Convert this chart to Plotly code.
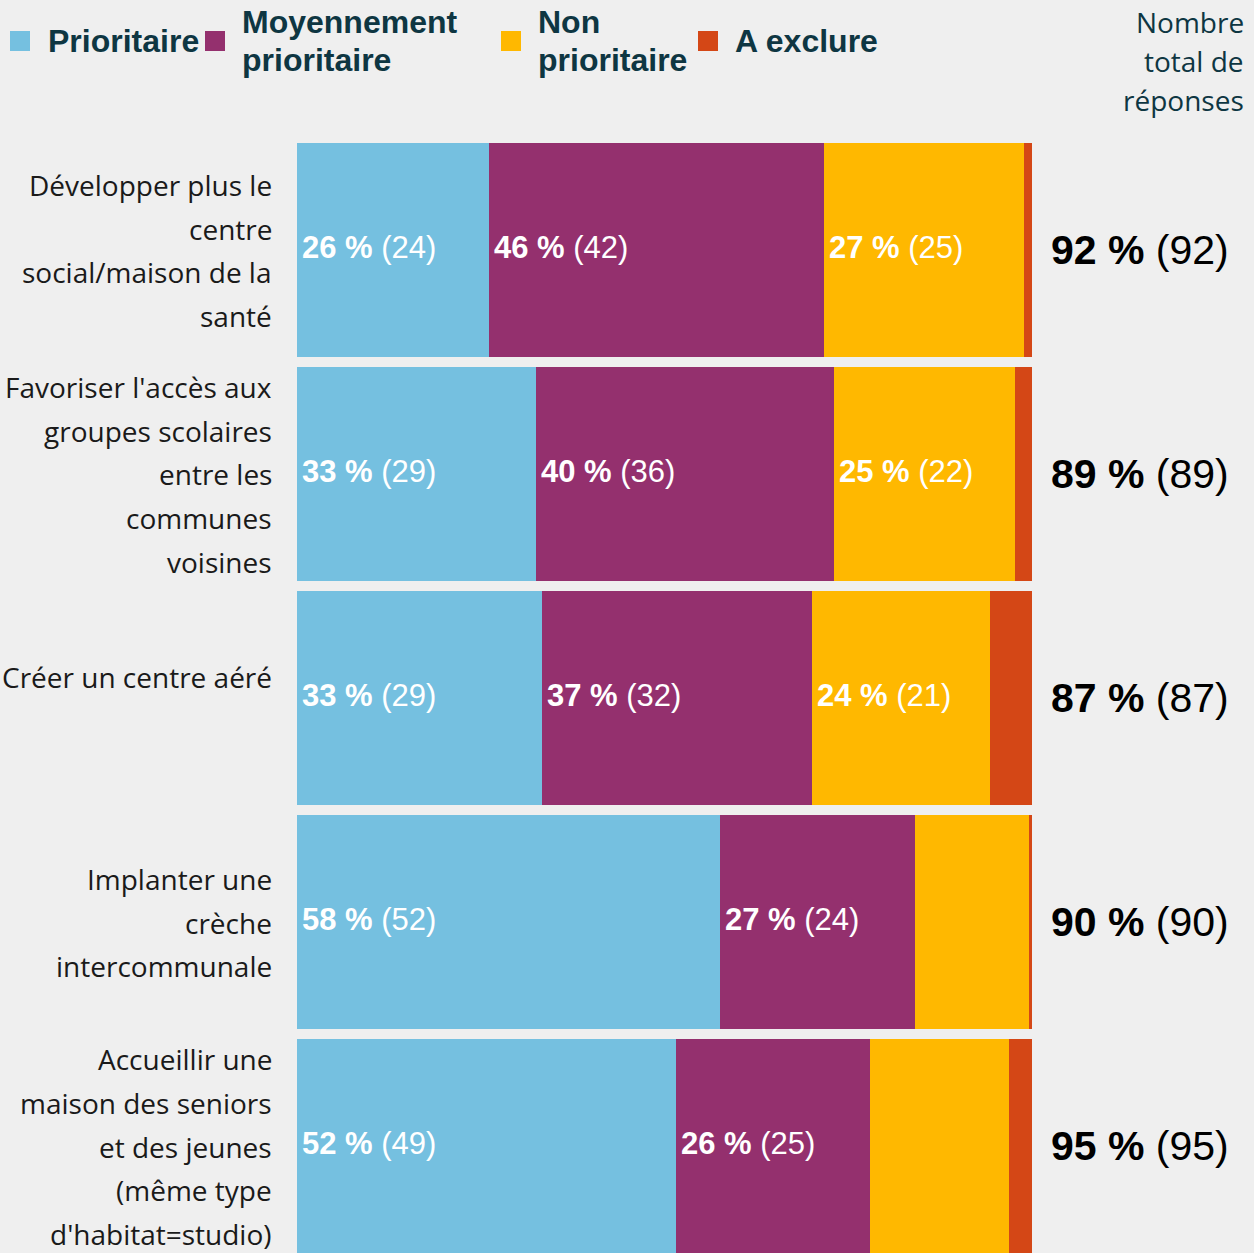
import plotly.graph_objects as go

# Survey data: one row per project, counts of answers per priority level
categories = [
    "Développer plus le<br>centre<br>social/maison de la<br>santé",
    "Favoriser l'accès aux<br>groupes scolaires<br>entre les<br>communes<br>voisines",
    "Créer un centre aéré<br>",
    "Implanter une<br>crèche<br>intercommunale",
    "Accueillir une<br>maison des seniors<br>et des jeunes<br>(même type<br>d'habitat=studio)",
]
series_names = ["Prioritaire", "Moyennement<br>prioritaire", "Non<br>prioritaire", "A exclure"]
prioritaire = [24, 29, 29, 52, 49]
moyennement = [42, 36, 32, 24, 25]
non_prioritaire = [25, 22, 21, 14, 18]
a_exclure = [1, 2, 5, 0.4, 3]
total_reponses = [92, 89, 87, 90, 95]

colors = ["#75c0e0", "#94306e", "#ffb800", "#d44716"]
bg = "#efefef"
dark_teal = "#0e3642"

W, H = 1254, 1253
L, R, T, B = 297, W - 1032, 143, 0
PW, PH = W - L - R, H - T - B


def px_x(x):
    return (x - L) / PW


def px_y(y):
    return 1 - (y - T) / PH


series = [prioritaire, moyennement, non_prioritaire, a_exclure]
n_rows = len(categories)
row_sums = [sum(s[i] for s in series) for i in range(n_rows)]

annotations = []
shapes = []

fig = go.Figure()
starts = [0.0] * n_rows
for k, (name, vals) in enumerate(zip(series_names, series)):
    widths = [v / row_sums[i] * 100 for i, v in enumerate(vals)]
    fig.add_trace(go.Bar(
        y=list(range(n_rows)),
        x=widths,
        orientation="h",
        name=name,
        marker=dict(color=colors[k], line=dict(width=0)),
        hoverinfo="skip",
        showlegend=False,
    ))
    # Value labels inside the wider segments
    for i, v in enumerate(vals):
        pct = round(v / total_reponses[i] * 100)
        if k < 3 and widths[i] >= 20:
            annotations.append(dict(
                x=starts[i], y=i, xref="x", yref="y",
                xanchor="left", yanchor="middle", xshift=3, yshift=3,
                showarrow=False, text=f"<b>{pct} %</b> ({v})",
                font=dict(family="Liberation Sans", size=31, color="white"),
            ))
        starts[i] += widths[i]

# Category labels, right-aligned to the left of the bars
line_gap = 43.7
for i, cat in enumerate(categories):
    lines = cat.split("<br>")
    n = len(lines)
    yc = T + 5 + i * 224 + 107 - 4.5
    for j, line in enumerate(lines):
        if not line:
            continue
        yy = yc + (j - (n - 1) / 2) * line_gap
        annotations.append(dict(
            x=px_x(274), y=px_y(yy), xref="paper", yref="paper",
            xanchor="right", yanchor="middle", showarrow=False,
            text=line, font=dict(family="Open Sans", size=28, color="#1a1a1a"),
        ))

# Total responses column
for i, tot in enumerate(total_reponses):
    yc = T + 5 + i * 224 + 107 - 5
    annotations.append(dict(
        x=px_x(1140), y=px_y(yc), xref="paper", yref="paper",
        xanchor="center", yanchor="middle", showarrow=False,
        text=f"<b>{tot} %</b> ({tot})",
        font=dict(family="Liberation Sans", size=41, color="black"),
    ))

# Column header
for j, line in enumerate(["Nombre", "total de", "réponses"]):
    annotations.append(dict(
        x=px_x(1246), y=px_y(22 + j * 39), xref="paper", yref="paper",
        xanchor="right", yanchor="middle", showarrow=False,
        text=line, font=dict(family="Open Sans", size=28, color=dark_teal),
    ))

# Legend built from swatches and labels
sw_x = [10, 205, 501, 698]
txt_x = [46, 240, 536, 733]
for k, name in enumerate(series_names):
    shapes.append(dict(
        type="rect", xref="paper", yref="paper",
        x0=px_x(sw_x[k]), x1=px_x(sw_x[k] + 20), y0=px_y(51), y1=px_y(31),
        fillcolor=colors[k], line=dict(width=0),
    ))
    parts = name.split("<br>")
    m = len(parts)
    for j, part in enumerate(parts):
        annotations.append(dict(
            x=px_x(txt_x[k]), y=px_y(41 + (j - (m - 1) / 2) * 38),
            xref="paper", yref="paper",
            xanchor="left", yanchor="middle", showarrow=False,
            text=f"<b>{part}</b>",
            font=dict(family="Liberation Sans", size=32, color=dark_teal),
        ))

bar_frac = 214 / 224
fig.update_layout(
    width=W, height=H,
    margin=dict(l=L, r=R, t=T, b=B),
    paper_bgcolor=bg, plot_bgcolor=bg,
    barmode="stack",
    bargap=1 - bar_frac,
    xaxis=dict(range=[0, 100], visible=False, fixedrange=True),
    yaxis=dict(range=[PH / 224 - bar_frac / 2, -bar_frac / 2],
               visible=False, fixedrange=True),
    annotations=annotations,
    shapes=shapes,
)

fig.write_html("out.html")
